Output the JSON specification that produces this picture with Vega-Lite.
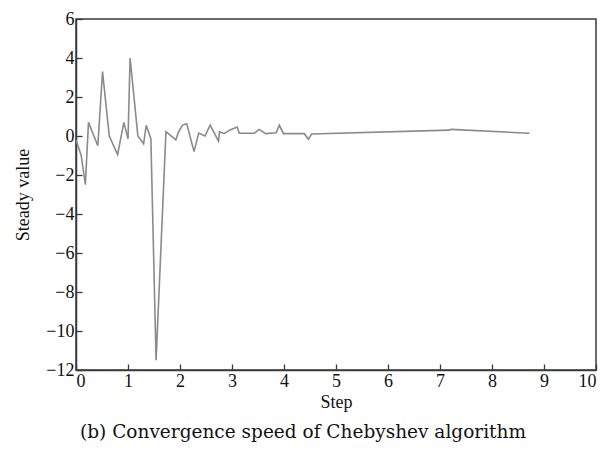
{
  "$schema": "https://vega.github.io/schema/vega-lite/v6.json",
  "width": 520,
  "height": 351,
  "autosize": {"type": "none"},
  "padding": {"left": 76, "top": 19, "right": 10, "bottom": 84},
  "background": "white",
  "config": {
    "view": {"stroke": "#3a3a3a", "strokeWidth": 1.5},
    "axis": {
      "grid": false,
      "domainColor": "#3a3a3a",
      "domainWidth": 1.5,
      "tickColor": "#3a3a3a",
      "tickSize": -6,
      "tickWidth": 1.3,
      "labelFont": "Liberation Serif",
      "labelFontSize": 18,
      "labelColor": "#111",
      "titleFont": "Liberation Serif",
      "titleFontSize": 18,
      "titleFontWeight": "normal",
      "titleColor": "#111"
    }
  },
  "title": {
    "text": "(b) Convergence speed of Chebyshev algorithm",
    "orient": "bottom",
    "font": "DejaVu Serif",
    "fontSize": 18.5,
    "fontWeight": "normal",
    "color": "#111",
    "offset": 12,
    "dx": -33
  },
  "data": {
    "values": [
      {"step": 0.0, "value": -0.2},
      {"step": 0.1, "value": -1.0},
      {"step": 0.18, "value": -2.5},
      {"step": 0.24, "value": 0.7},
      {"step": 0.42, "value": -0.5},
      {"step": 0.51, "value": 3.3},
      {"step": 0.64, "value": 0.0},
      {"step": 0.8, "value": -0.95},
      {"step": 0.92, "value": 0.7},
      {"step": 1.0, "value": -0.15},
      {"step": 1.04, "value": 4.0},
      {"step": 1.19, "value": 0.0},
      {"step": 1.3, "value": -0.4},
      {"step": 1.35, "value": 0.55},
      {"step": 1.44, "value": -0.15},
      {"step": 1.54, "value": -11.5},
      {"step": 1.73, "value": 0.22},
      {"step": 1.92, "value": -0.2},
      {"step": 1.97, "value": 0.2},
      {"step": 2.05, "value": 0.56},
      {"step": 2.13, "value": 0.63},
      {"step": 2.27, "value": -0.8},
      {"step": 2.36, "value": 0.15},
      {"step": 2.48, "value": 0.0},
      {"step": 2.58, "value": 0.56},
      {"step": 2.74, "value": -0.26},
      {"step": 2.76, "value": 0.22},
      {"step": 2.85, "value": 0.12},
      {"step": 2.95, "value": 0.3},
      {"step": 3.1, "value": 0.46},
      {"step": 3.14, "value": 0.14},
      {"step": 3.43, "value": 0.14},
      {"step": 3.52, "value": 0.34},
      {"step": 3.65, "value": 0.12},
      {"step": 3.85, "value": 0.17},
      {"step": 3.91, "value": 0.55},
      {"step": 3.99, "value": 0.12},
      {"step": 4.39, "value": 0.12},
      {"step": 4.47, "value": -0.17},
      {"step": 4.53, "value": 0.1},
      {"step": 7.18, "value": 0.3},
      {"step": 7.21, "value": 0.34},
      {"step": 8.72, "value": 0.14}
    ]
  },
  "mark": {"type": "line", "color": "#8a8a8a", "strokeWidth": 1.6, "clip": true},
  "encoding": {
    "x": {
      "field": "step",
      "type": "quantitative",
      "scale": {"domain": [0, 10], "nice": false},
      "axis": {"values": [0,1,2,3,4,5,6,7,8,9,10], "title": "Step", "titlePadding": 3, "labelPadding": 8}
    },
    "y": {
      "field": "value",
      "type": "quantitative",
      "scale": {"domain": [-12, 6], "nice": false},
      "axis": {"values": [-12,-10,-8,-6,-4,-2,0,2,4,6], "title": "Steady value", "titlePadding": 13, "labelPadding": 8}
    }
  }
}
